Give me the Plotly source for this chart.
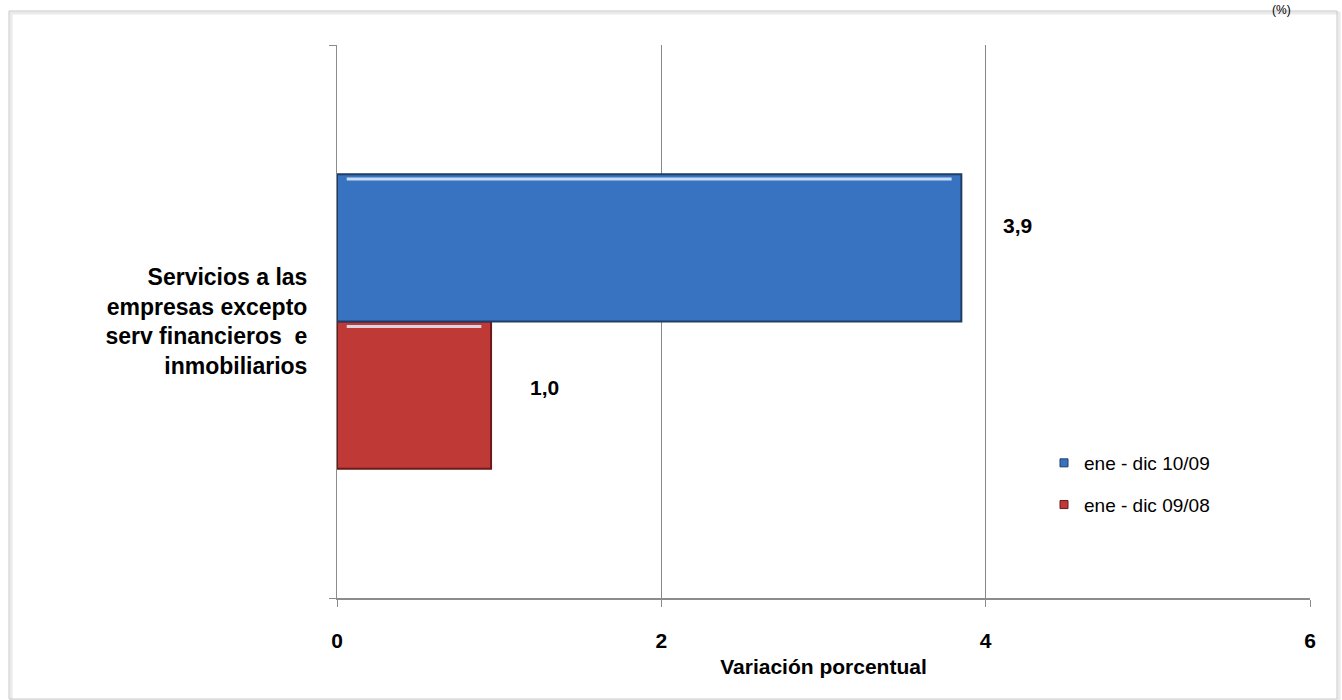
import plotly.graph_objects as go

categories = ["Servicios a las<br>empresas excepto<br>serv financieros  e<br>inmobiliarios"]
series_names = ["ene - dic 10/09", "ene - dic 09/08"]
values_1009 = [3.85]
values_0908 = [0.95]
labels_1009 = ["3,9"]
labels_0908 = ["1,0"]
x_ticks = [0, 2, 4, 6]

colors = {"ene - dic 10/09": ("#3873C2", "#1E3D66"),
          "ene - dic 09/08": ("#BF3A37", "#6A1A1A")}

W, H = 1342, 700
L, R, T, B = 337, 32, 45, 102
pw, ph = W - L - R, H - T - B
BARGAP = 0.467
FONT = "Liberation Sans, Arial, sans-serif"

def px_x(p):
    return (p - L) / pw

def px_y(p):
    return 1 - (p - T) / ph

fig = go.Figure()
# bars (bottom one first so the 10/09 bar sits on top)
fig.add_trace(go.Bar(
    y=categories, x=values_0908, orientation="h", name=series_names[1],
    marker=dict(color=colors[series_names[1]][0], line=dict(color=colors[series_names[1]][1], width=2)),
    showlegend=False,
))
fig.add_trace(go.Bar(
    y=categories, x=values_1009, orientation="h", name=series_names[0],
    marker=dict(color=colors[series_names[0]][0], line=dict(color=colors[series_names[0]][1], width=2)),
    showlegend=False,
))
# legend entries with small square markers
for i, name in enumerate(series_names):
    fig.add_trace(go.Scatter(
        x=[None], y=[None], mode="markers", name=name, legendgroup=name,
        marker=dict(symbol="square", size=8, color=colors[name][0],
                    line=dict(color=colors[name][1], width=1)),
        showlegend=True, legendrank=i + 1,
    ))

# bar highlight stripes near the top edge of each bar (bevel look)
half = (1 - BARGAP) / 2
for vals, center in ((values_1009, half / 2), (values_0908, -half / 2)):
    top = center + half / 2
    fig.add_shape(type="line", xref="x", yref="y",
                  x0=0.06, x1=vals[0] - 0.06, y0=top - 0.009, y1=top - 0.009,
                  line=dict(color="rgba(225,240,255,0.85)", width=3))

# data labels
fig.add_annotation(x=values_1009[0], y=half / 2, xref="x", yref="y",
                   text="<b>" + labels_1009[0] + "</b>",
                   showarrow=False, xanchor="left", xshift=40, yshift=22,
                   font=dict(size=21, color="black", family=FONT))
fig.add_annotation(x=values_0908[0], y=-half / 2, xref="x", yref="y",
                   text="<b>" + labels_0908[0] + "</b>",
                   showarrow=False, xanchor="left", xshift=37, yshift=8,
                   font=dict(size=21, color="black", family=FONT))

# outer frame
fig.add_shape(type="rect", xref="paper", yref="paper",
              x0=px_x(11), x1=px_x(1339), y0=px_y(701), y1=px_y(13),
              line=dict(color="#EAEAEA", width=3), fillcolor="rgba(0,0,0,0)", layer="below")
fig.add_shape(type="rect", xref="paper", yref="paper",
              x0=px_x(9), x1=px_x(1337), y0=px_y(699), y1=px_y(11),
              line=dict(color="#C8C8C8", width=1), fillcolor="rgba(0,0,0,0)", layer="below")
fig.add_annotation(xref="paper", yref="paper", x=px_x(1293), y=px_y(1), yanchor="top",
                   text="(%)", showarrow=False,
                   font=dict(size=12, color="black", family=FONT))

fig.update_layout(
    width=W, height=H,
    margin=dict(l=L, r=R, t=T, b=B),
    paper_bgcolor="white", plot_bgcolor="white",
    barmode="group", bargap=BARGAP, bargroupgap=0,
    font=dict(family=FONT, color="black"),
    legend=dict(x=px_x(1044), y=px_y(444), xanchor="left", yanchor="top",
                font=dict(size=19, color="black", family=FONT), bgcolor="rgba(0,0,0,0)",
                itemwidth=30, tracegroupgap=14),
    showlegend=True,
    yaxis=dict(range=[-0.5, 0.5]),
)
fig.update_xaxes(
    range=[0, 6], tickvals=x_ticks, ticktext=[str(v) for v in x_ticks],
    showgrid=True, gridcolor="#878787", gridwidth=1,
    showline=True, linecolor="#8C8C8C", linewidth=2,
    ticks="outside", ticklen=7, tickcolor="#8C8C8C",
    ticklabelstandoff=16,
    tickfont=dict(size=21, family=FONT, color="black", weight="bold"),
    title=dict(text="<b>Variación porcentual</b>", font=dict(size=21, color="black"), standoff=8),
    zeroline=False,
)
fig.update_yaxes(
    showline=True, linecolor="#8C8C8C", linewidth=1,
    ticks="outside", ticklen=7, tickcolor="#8C8C8C", tickson="boundaries",
    tickfont=dict(size=23, family=FONT, color="black", weight="bold"),
    ticklabelstandoff=24,
    showgrid=False,
)

fig.write_html("out.html", config={"displayModeBar": False},
               post_script="document.body.style.margin='0';")
